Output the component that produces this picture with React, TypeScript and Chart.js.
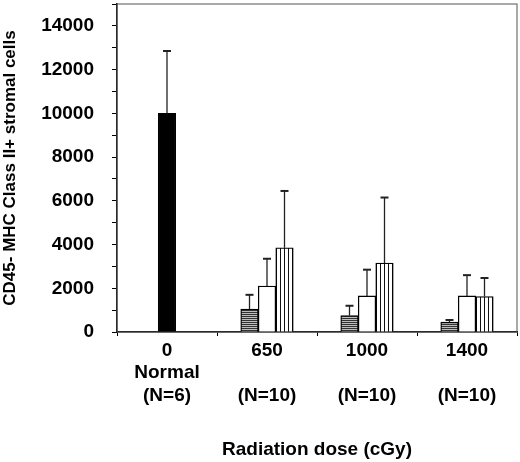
import { useEffect, useRef } from "react";
import { Chart, registerables, Plugin } from "chart.js";

Chart.register(...registerables);

// categories (radiation dose) with the sub-labels under each tick
const doseLabels = [
  ["0", "Normal", "(N=6)"],
  ["650", "", "(N=10)"],
  ["1000", "", "(N=10)"],
  ["1400", "", "(N=10)"],
];

// bar heights and upward error (SD)
const normalMean = [10000, null, null, null];
const normalErr = [2850, null, null, null];
const hStripeMean = [null, 1050, 750, 450];
const hStripeErr = [null, 650, 450, 100];
const openMean = [null, 2100, 1650, 1650];
const openErr = [null, 1250, 1200, 950];
const vStripeMean = [null, 3850, 3150, 1620];
const vStripeErr = [null, 2600, 3000, 850];

const yMax = 15000;
const FONT = "'Liberation Sans', Arial, sans-serif";

const errorBars: Plugin<"bar"> = {
  id: "errorBars",
  afterDatasetsDraw(chart) {
    const ctx = chart.ctx;
    const y = chart.scales.y;
    chart.data.datasets.forEach((ds: any, i) => {
      const meta = chart.getDatasetMeta(i);
      meta.data.forEach((bar: any, j) => {
        const v = ds.data[j];
        const e = ds.errors ? ds.errors[j] : null;
        if (v == null || e == null) return;
        const top = y.getPixelForValue(v + e);
        ctx.save();
        ctx.strokeStyle = "#222";
        ctx.lineWidth = 1.3;
        ctx.beginPath();
        ctx.moveTo(bar.x, bar.y);
        ctx.lineTo(bar.x, top);
        ctx.stroke();
        ctx.lineWidth = 2;
        ctx.beginPath();
        ctx.moveTo(bar.x - 4, top);
        ctx.lineTo(bar.x + 4, top);
        ctx.stroke();
        ctx.restore();
      });
    });
  },
};

const frame: Plugin<"bar"> = {
  id: "frame",
  beforeDatasetsDraw(chart) {
    const { ctx, chartArea: a } = chart;
    ctx.save();
    ctx.strokeStyle = "#555";
    ctx.lineWidth = 1;
    ctx.strokeRect(a.left, a.top, a.right - a.left, a.bottom - a.top);
    ctx.restore();
  },
};

function makePattern(kind: "h" | "v") {
  const c = document.createElement("canvas");
  const g = c.getContext("2d")!;
  if (kind === "h") {
    c.width = 1;
    c.height = 2;
    g.fillStyle = "#bdbdbd";
    g.fillRect(0, 0, 1, 2);
    g.fillStyle = "#333";
    g.fillRect(0, 0, 1, 1);
  } else {
    c.width = 4;
    c.height = 1;
    g.fillStyle = "#fff";
    g.fillRect(0, 0, 4, 1);
    g.fillStyle = "#111";
    g.fillRect(0, 0, 1, 1);
  }
  return g.createPattern(c, "repeat")!;
}

export default function App() {
  const canvasRef = useRef<HTMLCanvasElement>(null);

  useEffect(() => {
    if (!canvasRef.current) return;
    const common = {
      barThickness: 17.5,
      skipNull: true,
      borderColor: "#000",
      borderWidth: 1.3,
    };
    const chart = new Chart(canvasRef.current, {
      type: "bar",
      data: {
        labels: doseLabels,
        datasets: [
          { ...common, label: "Normal", data: normalMean, errors: normalErr, backgroundColor: "#000" } as any,
          { ...common, label: "A", data: hStripeMean, errors: hStripeErr, backgroundColor: makePattern("h") } as any,
          { ...common, label: "B", data: openMean, errors: openErr, backgroundColor: "#fff" } as any,
          { ...common, label: "C", data: vStripeMean, errors: vStripeErr, backgroundColor: makePattern("v") } as any,
        ],
      },
      options: {
        animation: false,
        responsive: true,
        maintainAspectRatio: false,
        layout: { padding: { top: 4, right: 3, left: 0, bottom: 0 } },
        plugins: { legend: { display: false }, tooltip: { enabled: false } },
        scales: {
          x: {
            ticks: {
              color: "#000",
              padding: 3,
              autoSkip: false,
              maxRotation: 0,
              font: { family: FONT, size: 19, weight: "bold", lineHeight: 1.2 },
            },
            grid: { drawOnChartArea: false, tickLength: 4, color: "#000", offset: true },
            border: { color: "#000", width: 1.5 },
            title: {
              display: true,
              text: "Radiation dose (cGy)",
              color: "#000",
              font: { family: FONT, size: 19, weight: "bold" },
              padding: { top: 0, bottom: 1 },
            },
            afterFit: (s: any) => {
              s.height = 130;
              s.paddingLeft = 0;
              s.paddingRight = 0;
            },
          },
          y: {
            min: 0,
            max: yMax,
            ticks: {
              stepSize: 1000,
              autoSkip: false,
              padding: 18,
              color: "#000",
              font: { family: FONT, size: 19, weight: "bold" },
              callback: (v: any) => (Number(v) % 2000 === 0 && Number(v) <= 14000 ? String(v) : ""),
            },
            grid: { drawOnChartArea: false, tickLength: 5, color: "#000" },
            border: { color: "#000", width: 1.5 },
            title: {
              display: true,
              text: "CD45- MHC Class II+ stromal cells",
              color: "#000",
              font: { family: FONT, size: 17, weight: "bold" },
              padding: { top: 0, bottom: 0 },
            },
            afterFit: (s: any) => {
              s.width = 117;
              s.paddingTop = 0;
              s.paddingBottom = 0;
            },
          },
        },
      },
      plugins: [frame, errorBars],
    });
    return () => chart.destroy();
  }, []);

  return (
    <div style={{ position: "fixed", left: 0, top: 0, width: 520, height: 462, background: "#fff" }}>
      <canvas ref={canvasRef} />
    </div>
  );
}
